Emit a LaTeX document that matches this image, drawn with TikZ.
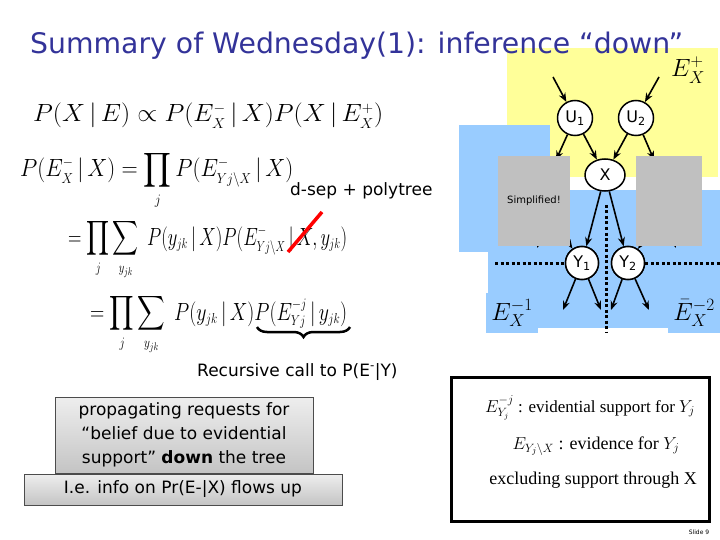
\documentclass[tikz,border=0pt]{standalone}
\usepackage{graphicx}
\usepackage{fontspec}
\setmainfont{Liberation Serif}
\setsansfont{DejaVu Sans}
\DeclareFontShape{OMX}{cmex}{m}{n}{<-> s*[0.86] cmex10}{}
\DeclareMathSizes{28}{28}{15}{11}
\usepackage{tikz}
\usetikzlibrary{positioning, arrows.meta, shapes.geometric, decorations.pathreplacing}

\definecolor{titleblue}{RGB}{51,51,153}
\definecolor{evyellow}{RGB}{255,255,153}
\definecolor{evblue}{RGB}{153,204,255}
\definecolor{maskgrey}{RGB}{192,192,192}
\definecolor{boxtop}{RGB}{238,238,238}
\definecolor{boxbottom}{RGB}{196,196,196}

\tikzset{
    netnode/.style={circle, draw=black, line width=1.5pt, fill=white,
        minimum size=35pt, inner sep=0pt, font=\fontsize{16}{16}\selectfont\sffamily},
    netarrow/.style={-{Stealth[length=9pt,width=7pt]}, line width=1.6pt},
    sepline/.style={line width=3pt, dash pattern=on 3pt off 2.5pt},
    eqline/.style={anchor=base west, inner sep=0pt, font=\fontsize{28}{30}\selectfont},
    notebox/.style={draw=black!70, line width=0.8pt, top color=boxtop, bottom color=boxbottom,
        inner sep=0pt, align=center, font=\fontsize{17}{24}\selectfont\sffamily},
    maskbox/.style={fill=maskgrey, inner sep=0pt, font=\fontsize{10}{10}\selectfont\sffamily}
}

\begin{document}
\begin{tikzpicture}[x=1pt, y=-1pt]
    \useasboundingbox (0,0) rectangle (720,540);

    % ==================== evidence regions ====================
    \fill[evyellow] (507,48) rectangle (718,177);
    \fill[evblue] (459,125) rectangle (550,252);
    \fill[evblue] (488,190) rectangle (720,328);
    \node[fill=evblue, inner sep=0pt, minimum width=52pt, minimum height=40pt,
          font=\fontsize{26}{26}\selectfont] (eminusone) at (512,313) {$E_X^{-1}$};
    \node[fill=evblue, inner sep=0pt, minimum width=53pt, minimum height=40pt,
          font=\fontsize{26}{26}\selectfont] (eminustwo) at (694,313) {$\bar{E}_X^{-2}$};
    \node[font=\fontsize{26}{26}\selectfont] (eplus) at (688,70) {$E_X^{+}$};

    % ==================== title ====================
    \node[anchor=base west, inner sep=0pt, text=titleblue,
          font=\fontsize{28.3}{30}\selectfont\sffamily] (title) at (30,54)
          {Summary of Wednesday(1): inference “down”};

    % ==================== network ====================
    \node[netnode] (u1) at (575,118) {U\textsubscript{1}};
    \node[netnode] (u2) at (636,118) {U\textsubscript{2}};
    \node[netnode, ellipse, minimum width=40pt, minimum height=32pt] (x) at (605,175) {X};
    \node[netnode, minimum size=33pt] (y1) at (582,263) {Y\textsubscript{1}};
    \node[netnode, minimum size=33pt] (y2) at (628,263) {Y\textsubscript{2}};

    \coordinate (u1in)  at (553,77);
    \coordinate (u2in)  at (659,77);
    \coordinate (u1out) at (556,160);
    \coordinate (u2out) at (654,160);
    \coordinate (z1)    at (550,215);
    \coordinate (z2)    at (662,215);
    \coordinate (z1tip) at (537,248);
    \coordinate (z2tip) at (676,248);
    \coordinate (y1a)   at (563,310);
    \coordinate (y1b)   at (601,310);
    \coordinate (y2a)   at (611,310);
    \coordinate (y2b)   at (649,310);
    \coordinate (sepw)  at (495,263);
    \coordinate (sepe)  at (720,263);
    \coordinate (sepn)  at (606,205);
    \coordinate (seps)  at (606,333);

    % arrows partly hidden by the grey boxes
    \draw[netarrow] (u1) -- (u1out);
    \draw[netarrow] (u2) -- (u2out);
    \draw[netarrow] (z1) -- (y1);
    \draw[netarrow] (z2) -- (y2);
    \draw[netarrow] (z1) -- (z1tip);
    \draw[netarrow] (z2) -- (z2tip);

    \node[maskbox, minimum width=72pt, minimum height=89pt] (simpl) at (534,201) {Simplified!};
    \node[maskbox, minimum width=66pt, minimum height=89pt] (mask) at (669,201) {};

    \draw[sepline] (sepw) -- (y1);
    \draw[sepline] (y2) -- (sepe);
    \draw[sepline] (sepn) -- (seps);

    \draw[netarrow] (u1in) -- (u1);
    \draw[netarrow] (u2in) -- (u2);
    \draw[netarrow] (u1) -- (x);
    \draw[netarrow] (u2) -- (x);
    \draw[netarrow] (x) -- (y1);
    \draw[netarrow] (x) -- (y2);
    \draw[netarrow] (y1) -- (y1a);
    \draw[netarrow] (y1) -- (y1b);
    \draw[netarrow] (y2) -- (y2a);
    \draw[netarrow] (y2) -- (y2b);

    % redraw nodes on top of the dotted lines
    \node[netnode, minimum size=33pt] at (y1) {Y\textsubscript{1}};
    \node[netnode, minimum size=33pt] at (y2) {Y\textsubscript{2}};

    % ==================== equations ====================
    \node[eqline] (eqa) at (33,122) {\resizebox{350pt}{\height}{%
        $P(X\,|\,E)\propto P(E_X^-\,|\,X)P(X\,|\,E_X^+)$}};
    \node[eqline] (eqb) at (20,177) {\resizebox{273pt}{\height}{%
        $\displaystyle P(E_X^-\,|\,X)=\prod_j P(E^-_{Yj\backslash X}\,|\,X)$}};
    \node[eqline] (eqc) at (68,245) {\resizebox{279pt}{\height}{%
        $\displaystyle =\prod_j\sum_{y_{jk}}\;P(y_{jk}\,|\,X)P(E^-_{Yj\backslash X}\,|\,X,y_{jk})$}};
    \node[eqline] (eqd) at (90,320) {\resizebox{257pt}{\height}{%
        $\displaystyle =\prod_j\sum_{y_{jk}}\;P(y_{jk}\,|\,X)P(E^{-j}_{Yj}\,|\,y_{jk})$}};

    \node[anchor=base west, inner sep=0pt, font=\fontsize{17}{20}\selectfont\sffamily]
        (dsep) at (290,196) {d-sep + polytree};
    \draw[red, line width=3.5pt] (288,252) -- (322,212);
    \draw[line width=2.5pt, decorate, decoration={brace, mirror, amplitude=10pt}]
        (257,327) -- (350,327);
    \node[anchor=base west, inner sep=0pt, font=\fontsize{17}{20}\selectfont\sffamily]
        (recur) at (197,376) {Recursive call to P(E\textsuperscript{-}|Y)};

    % ==================== notes ====================
    \node[notebox, minimum width=258pt, minimum height=76pt] (request) at (184,435)
        {propagating requests for\\“belief due to evidential\\support” \textbf{down} the tree};
    \node[notebox, minimum width=318pt, minimum height=31pt] (flows) at (183,489.5)
        {I.e. info on Pr(E-|X) flows up};

    \node[draw=black, line width=3pt, minimum width=258pt, minimum height=144pt,
          inner sep=0pt] (defbox) at (580,449.5) {};
    \node[inner sep=0pt, anchor=base, font=\fontsize{17}{20}\selectfont] (defa) at (590,412)
        {$E_{Y_j}^{-j}$ : evidential support for $Y_j$};
    \node[inner sep=0pt, anchor=base, font=\fontsize{18}{22}\selectfont] (defb) at (596,449)
        {$E_{Y_j\backslash X}$ : evidence for $Y_j$};
    \node[inner sep=0pt, anchor=base, font=\fontsize{18}{22}\selectfont] (defc) at (593,484)
        {excluding support through X};

    \node[font=\fontsize{6}{6}\selectfont\sffamily] (slide) at (699,532) {Slide 9};
\end{tikzpicture}
\end{document}
